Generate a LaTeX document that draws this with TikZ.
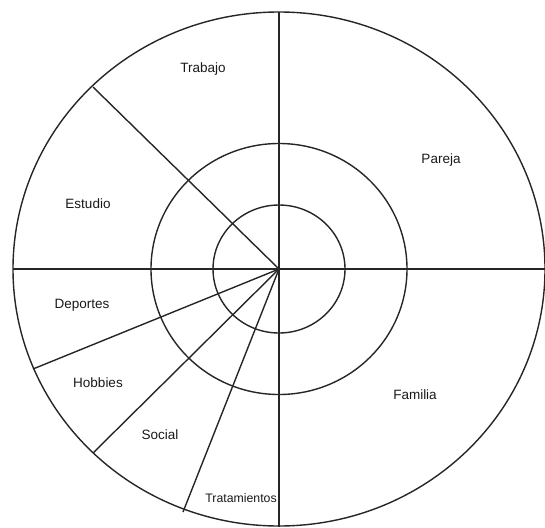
\documentclass[tikz,border=0pt]{standalone}
\usepackage{fontspec}
\setmainfont{Liberation Sans}
\begin{document}
\begin{tikzpicture}[x=1pt,y=-1pt,
  ln/.style={line width=1.4pt,draw=black!85},
  lbl/.style={font=\fontsize{13.5}{15}\selectfont,inner sep=0pt,text=black!90}]
\useasboundingbox (0,0) rectangle (545,527);
\coordinate (c) at (279,269);
\coordinate (top) at (279,12);
\coordinate (bot) at (279,527);
\coordinate (lft) at (13,269);
\coordinate (rgt) at (545,269);
\coordinate (e1) at (93,87);
\coordinate (e2) at (33,369);
\coordinate (e3) at (93,453);
\coordinate (e4) at (183,512);
\draw[ln] (c) ellipse [x radius=266, y radius=257];
\draw[ln] (c) ellipse [x radius=128, y radius=125.5];
\draw[ln] (c) ellipse [x radius=66, y radius=64];
\draw[ln] (top) -- (bot);
\draw[ln] (lft) -- (rgt);
\draw[ln] (c) -- (e1);
\draw[ln] (c) -- (e2);
\draw[ln] (c) -- (e3);
\draw[ln] (c) -- (e4);
\node[lbl] (trabajo) at (203,69) {Trabajo};
\node[lbl] (pareja) at (441,160) {Pareja};
\node[lbl] (estudio) at (88,204) {Estudio};
\node[lbl] (deportes) at (82,305) {Deportes};
\node[lbl] (hobbies) at (98,383) {Hobbies};
\node[lbl] (social) at (160,435) {Social};
\node[lbl,font=\fontsize{12.3}{14}\selectfont] (trat) at (241,498) {Tratamientos};
\node[lbl] (familia) at (415,395) {Familia};
\end{tikzpicture}
\end{document}
